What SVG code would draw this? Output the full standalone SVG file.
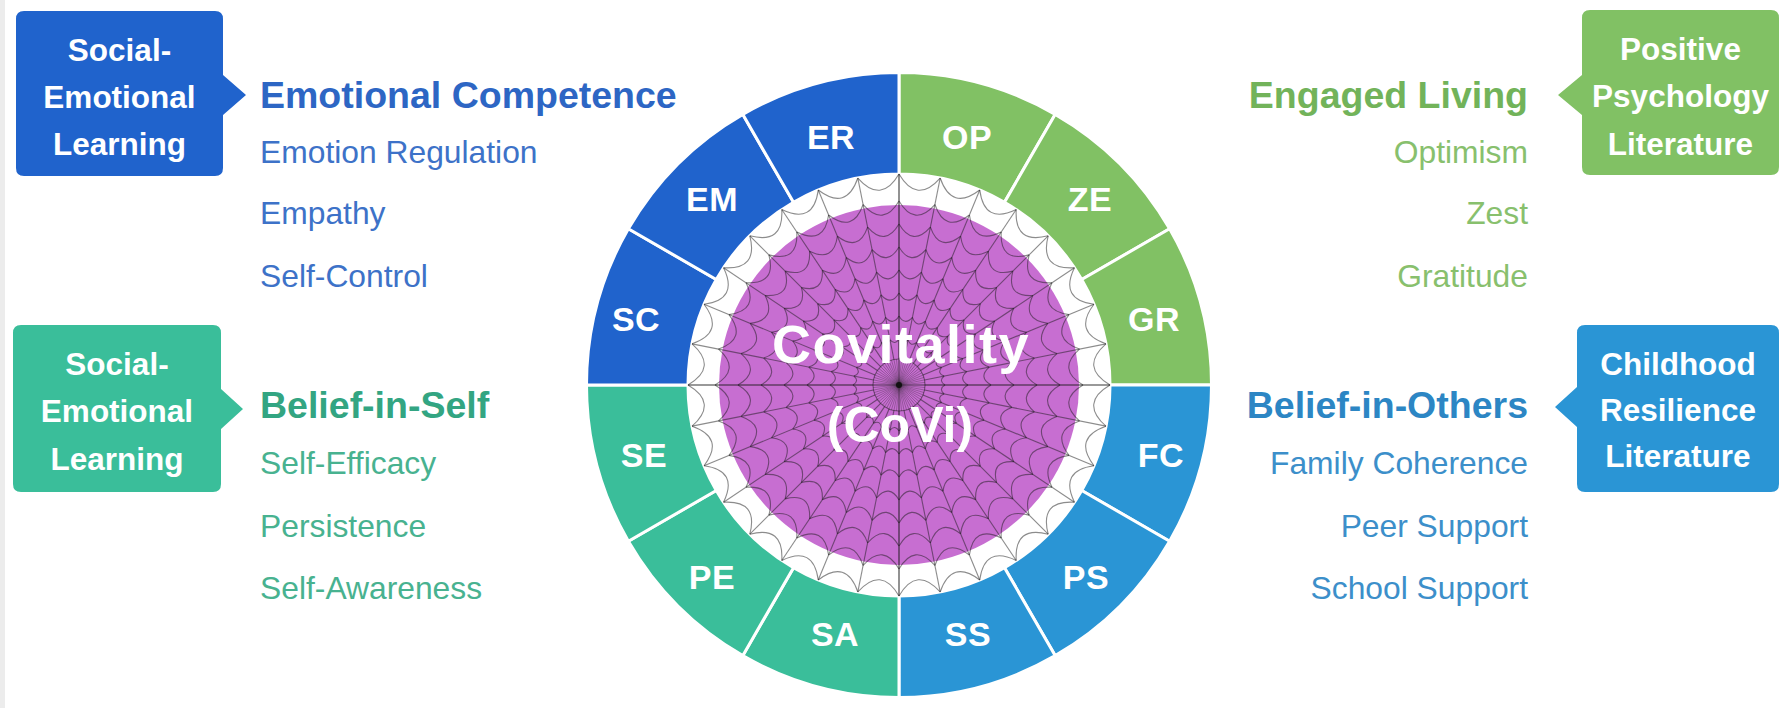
<svg xmlns="http://www.w3.org/2000/svg" xmlns:xlink="http://www.w3.org/1999/xlink" width="1781" height="708" viewBox="0 0 1781 708">
  <style>
    .box-text { font-family: "Liberation Sans", Arial, sans-serif; font-weight: bold; font-size: 31.5px; fill: #ffffff; text-anchor: middle; }
    .title { font-family: "Liberation Sans", Arial, sans-serif; font-weight: bold; font-size: 37.5px; }
    .item { font-family: "Liberation Sans", Arial, sans-serif; font-size: 31.8px; }
    .end { text-anchor: end; }
    .seg { stroke: #ffffff; stroke-width: 3; }
    .seg-label { font-family: "Liberation Sans", Arial, sans-serif; font-weight: bold; font-size: 34px; letter-spacing: 0.5px; fill: #ffffff; text-anchor: middle; }
    .thread { fill: none; stroke: #1a1a1a; stroke-opacity: 0.5; stroke-width: 1.1; }
    .hub { fill: none; stroke: #1a1a1a; stroke-opacity: 0.45; stroke-width: 0.6; }
    .core { font-family: "Liberation Sans", Arial, sans-serif; font-weight: bold; fill: #ffffff; text-anchor: middle; }
  </style>
  <defs>
    <!-- one 30 degree ring sector, pointing up, clockwise -->
    <path id="sector" d="M0,-312.5 A312.5,312.5 0 0 1 156.25,-270.633 L105.5,-182.731 A211,211 0 0 0 0,-211 Z"/>
    <!-- one 11.25 degree slice of the web: a spoke plus sagging threads -->
    <g id="wedge" class="thread">
      <line x1="0" y1="-26" x2="0" y2="-211"/>
      <path d="M0,-46 Q3.878,-39.370 8.974,-45.116
               M0,-69 Q5.816,-59.054 13.461,-67.675
               M0,-92 Q7.755,-78.739 17.948,-90.233
               M0,-115 Q9.694,-98.424 22.435,-112.791
               M0,-138 Q11.633,-118.109 26.922,-135.349
               M0,-161 Q13.572,-137.793 31.409,-157.907
               M0,-184 Q15.510,-157.478 35.897,-180.465
               M0,-211 Q17.786,-180.586 41.164,-206.947"/>
    </g>
    <!-- two fine spokes of the hub -->
    <g id="hub-pair" class="hub">
      <line x1="0" y1="0" x2="0" y2="-26"/>
      <line x1="0" y1="0" x2="2.548" y2="-25.875"/>
    </g>
  </defs>

  <rect width="1781" height="708" fill="#ffffff"/>
  <rect width="5" height="708" fill="#ececec"/>

  <!-- ring of twelve sub-scales -->
  <g id="seg-OP"><use xlink:href="#sector" class="seg" fill="#81c164" transform="translate(899 385) rotate(0)"/><text class="seg-label" x="967" y="149">OP</text></g>
  <g id="seg-ZE"><use xlink:href="#sector" class="seg" fill="#81c164" transform="translate(899 385) rotate(30)"/><text class="seg-label" x="1090" y="211">ZE</text></g>
  <g id="seg-GR"><use xlink:href="#sector" class="seg" fill="#81c164" transform="translate(899 385) rotate(60)"/><text class="seg-label" x="1154" y="331">GR</text></g>
  <g id="seg-FC"><use xlink:href="#sector" class="seg" fill="#2a95d5" transform="translate(899 385) rotate(90)"/><text class="seg-label" x="1161" y="467">FC</text></g>
  <g id="seg-PS"><use xlink:href="#sector" class="seg" fill="#2a95d5" transform="translate(899 385) rotate(120)"/><text class="seg-label" x="1086" y="589">PS</text></g>
  <g id="seg-SS"><use xlink:href="#sector" class="seg" fill="#2a95d5" transform="translate(899 385) rotate(150)"/><text class="seg-label" x="968" y="646">SS</text></g>
  <g id="seg-SA"><use xlink:href="#sector" class="seg" fill="#3abe9a" transform="translate(899 385) rotate(180)"/><text class="seg-label" x="835" y="646">SA</text></g>
  <g id="seg-PE"><use xlink:href="#sector" class="seg" fill="#3abe9a" transform="translate(899 385) rotate(210)"/><text class="seg-label" x="712" y="589">PE</text></g>
  <g id="seg-SE"><use xlink:href="#sector" class="seg" fill="#3abe9a" transform="translate(899 385) rotate(240)"/><text class="seg-label" x="644" y="467">SE</text></g>
  <g id="seg-SC"><use xlink:href="#sector" class="seg" fill="#2063cc" transform="translate(899 385) rotate(270)"/><text class="seg-label" x="636" y="331">SC</text></g>
  <g id="seg-EM"><use xlink:href="#sector" class="seg" fill="#2063cc" transform="translate(899 385) rotate(300)"/><text class="seg-label" x="712" y="211">EM</text></g>
  <g id="seg-ER"><use xlink:href="#sector" class="seg" fill="#2063cc" transform="translate(899 385) rotate(330)"/><text class="seg-label" x="831" y="149">ER</text></g>

  <!-- central web -->
  <g id="core">
    <circle cx="899" cy="385" r="180" fill="#c76ed1"/>
    <g transform="translate(899 385)">
      <use xlink:href="#wedge" transform="rotate(0)"/>
      <use xlink:href="#wedge" transform="rotate(11.25)"/>
      <use xlink:href="#wedge" transform="rotate(22.5)"/>
      <use xlink:href="#wedge" transform="rotate(33.75)"/>
      <use xlink:href="#wedge" transform="rotate(45)"/>
      <use xlink:href="#wedge" transform="rotate(56.25)"/>
      <use xlink:href="#wedge" transform="rotate(67.5)"/>
      <use xlink:href="#wedge" transform="rotate(78.75)"/>
      <use xlink:href="#wedge" transform="rotate(90)"/>
      <use xlink:href="#wedge" transform="rotate(101.25)"/>
      <use xlink:href="#wedge" transform="rotate(112.5)"/>
      <use xlink:href="#wedge" transform="rotate(123.75)"/>
      <use xlink:href="#wedge" transform="rotate(135)"/>
      <use xlink:href="#wedge" transform="rotate(146.25)"/>
      <use xlink:href="#wedge" transform="rotate(157.5)"/>
      <use xlink:href="#wedge" transform="rotate(168.75)"/>
      <use xlink:href="#wedge" transform="rotate(180)"/>
      <use xlink:href="#wedge" transform="rotate(191.25)"/>
      <use xlink:href="#wedge" transform="rotate(202.5)"/>
      <use xlink:href="#wedge" transform="rotate(213.75)"/>
      <use xlink:href="#wedge" transform="rotate(225)"/>
      <use xlink:href="#wedge" transform="rotate(236.25)"/>
      <use xlink:href="#wedge" transform="rotate(247.5)"/>
      <use xlink:href="#wedge" transform="rotate(258.75)"/>
      <use xlink:href="#wedge" transform="rotate(270)"/>
      <use xlink:href="#wedge" transform="rotate(281.25)"/>
      <use xlink:href="#wedge" transform="rotate(292.5)"/>
      <use xlink:href="#wedge" transform="rotate(303.75)"/>
      <use xlink:href="#wedge" transform="rotate(315)"/>
      <use xlink:href="#wedge" transform="rotate(326.25)"/>
      <use xlink:href="#wedge" transform="rotate(337.5)"/>
      <use xlink:href="#wedge" transform="rotate(348.75)"/>
      <!-- fine spokes converging in the hub -->
      <use xlink:href="#hub-pair" transform="rotate(0)"/>
      <use xlink:href="#hub-pair" transform="rotate(11.25)"/>
      <use xlink:href="#hub-pair" transform="rotate(22.5)"/>
      <use xlink:href="#hub-pair" transform="rotate(33.75)"/>
      <use xlink:href="#hub-pair" transform="rotate(45)"/>
      <use xlink:href="#hub-pair" transform="rotate(56.25)"/>
      <use xlink:href="#hub-pair" transform="rotate(67.5)"/>
      <use xlink:href="#hub-pair" transform="rotate(78.75)"/>
      <use xlink:href="#hub-pair" transform="rotate(90)"/>
      <use xlink:href="#hub-pair" transform="rotate(101.25)"/>
      <use xlink:href="#hub-pair" transform="rotate(112.5)"/>
      <use xlink:href="#hub-pair" transform="rotate(123.75)"/>
      <use xlink:href="#hub-pair" transform="rotate(135)"/>
      <use xlink:href="#hub-pair" transform="rotate(146.25)"/>
      <use xlink:href="#hub-pair" transform="rotate(157.5)"/>
      <use xlink:href="#hub-pair" transform="rotate(168.75)"/>
      <use xlink:href="#hub-pair" transform="rotate(180)"/>
      <use xlink:href="#hub-pair" transform="rotate(191.25)"/>
      <use xlink:href="#hub-pair" transform="rotate(202.5)"/>
      <use xlink:href="#hub-pair" transform="rotate(213.75)"/>
      <use xlink:href="#hub-pair" transform="rotate(225)"/>
      <use xlink:href="#hub-pair" transform="rotate(236.25)"/>
      <use xlink:href="#hub-pair" transform="rotate(247.5)"/>
      <use xlink:href="#hub-pair" transform="rotate(258.75)"/>
      <use xlink:href="#hub-pair" transform="rotate(270)"/>
      <use xlink:href="#hub-pair" transform="rotate(281.25)"/>
      <use xlink:href="#hub-pair" transform="rotate(292.5)"/>
      <use xlink:href="#hub-pair" transform="rotate(303.75)"/>
      <use xlink:href="#hub-pair" transform="rotate(315)"/>
      <use xlink:href="#hub-pair" transform="rotate(326.25)"/>
      <use xlink:href="#hub-pair" transform="rotate(337.5)"/>
      <use xlink:href="#hub-pair" transform="rotate(348.75)"/>
      <circle class="thread" r="26"/>
      <line class="thread" x1="-211" y1="0" x2="211" y2="0" stroke-opacity="0.7"/>
      <line class="thread" x1="0" y1="-211" x2="0" y2="211" stroke-opacity="0.6"/>
      <circle r="3" fill="#111111"/>
    </g>
    <text class="core" x="901" y="363" font-size="54" letter-spacing="1.5">Covitality</text>
    <text class="core" x="900" y="442" font-size="50">(CoVi)</text>
  </g>

  <!-- top left: Emotional Competence -->
  <g id="src-sel-1">
    <path fill="#2063cc" d="M24,11 H215 Q223,11 223,19 V75 L246,95 L223,115 V168 Q223,176 215,176 H24 Q16,176 16,168 V19 Q16,11 24,11 Z"/>
    <text class="box-text" x="119.5" y="61">Social-</text>
    <text class="box-text" x="119.5" y="108">Emotional</text>
    <text class="box-text" x="119.5" y="155">Learning</text>
  </g>
  <g id="domain-emotional-competence">
    <text class="title" fill="#2d66c4" x="260" y="108">Emotional Competence</text>
    <text class="item" fill="#3d72c8" x="260" y="163">Emotion Regulation</text>
    <text class="item" fill="#3d72c8" x="260" y="224">Empathy</text>
    <text class="item" fill="#3d72c8" x="260" y="287">Self-Control</text>
  </g>

  <!-- bottom left: Belief-in-Self -->
  <g id="src-sel-2">
    <path fill="#3abe9a" d="M21,325 H213 Q221,325 221,333 V389 L243,409 L221,429 V484 Q221,492 213,492 H21 Q13,492 13,484 V333 Q13,325 21,325 Z"/>
    <text class="box-text" x="117" y="375">Social-</text>
    <text class="box-text" x="117" y="422">Emotional</text>
    <text class="box-text" x="117" y="470">Learning</text>
  </g>
  <g id="domain-belief-in-self">
    <text class="title" fill="#33a582" x="260" y="418">Belief-in-Self</text>
    <text class="item" fill="#48b290" x="260" y="474">Self-Efficacy</text>
    <text class="item" fill="#48b290" x="260" y="537">Persistence</text>
    <text class="item" fill="#48b290" x="260" y="599">Self-Awareness</text>
  </g>

  <!-- top right: Engaged Living -->
  <g id="src-positive-psychology">
    <path fill="#81c164" d="M1590,10 H1771 Q1779,10 1779,18 V167 Q1779,175 1771,175 H1590 Q1582,175 1582,167 V115 L1558,95 L1582,75 V18 Q1582,10 1590,10 Z"/>
    <text class="box-text" x="1680.5" y="60">Positive</text>
    <text class="box-text" x="1680.5" y="107">Psychology</text>
    <text class="box-text" x="1680.5" y="155">Literature</text>
  </g>
  <g id="domain-engaged-living">
    <text class="title end" fill="#72b35a" x="1528" y="108">Engaged Living</text>
    <text class="item end" fill="#88c06d" x="1528" y="163">Optimism</text>
    <text class="item end" fill="#88c06d" x="1528" y="224">Zest</text>
    <text class="item end" fill="#88c06d" x="1528" y="287">Gratitude</text>
  </g>

  <!-- bottom right: Belief-in-Others -->
  <g id="src-childhood-resilience">
    <path fill="#2a95d5" d="M1585,325 H1771 Q1779,325 1779,333 V484 Q1779,492 1771,492 H1585 Q1577,492 1577,484 V427 L1555,407 L1577,387 V333 Q1577,325 1585,325 Z"/>
    <text class="box-text" x="1678" y="375">Childhood</text>
    <text class="box-text" x="1678" y="421">Resilience</text>
    <text class="box-text" x="1678" y="467">Literature</text>
  </g>
  <g id="domain-belief-in-others">
    <text class="title end" fill="#2c86c4" x="1528" y="418">Belief-in-Others</text>
    <text class="item end" fill="#3c8fca" x="1528" y="474">Family Coherence</text>
    <text class="item end" fill="#3c8fca" x="1528" y="537">Peer Support</text>
    <text class="item end" fill="#3c8fca" x="1528" y="599">School Support</text>
  </g>
</svg>
